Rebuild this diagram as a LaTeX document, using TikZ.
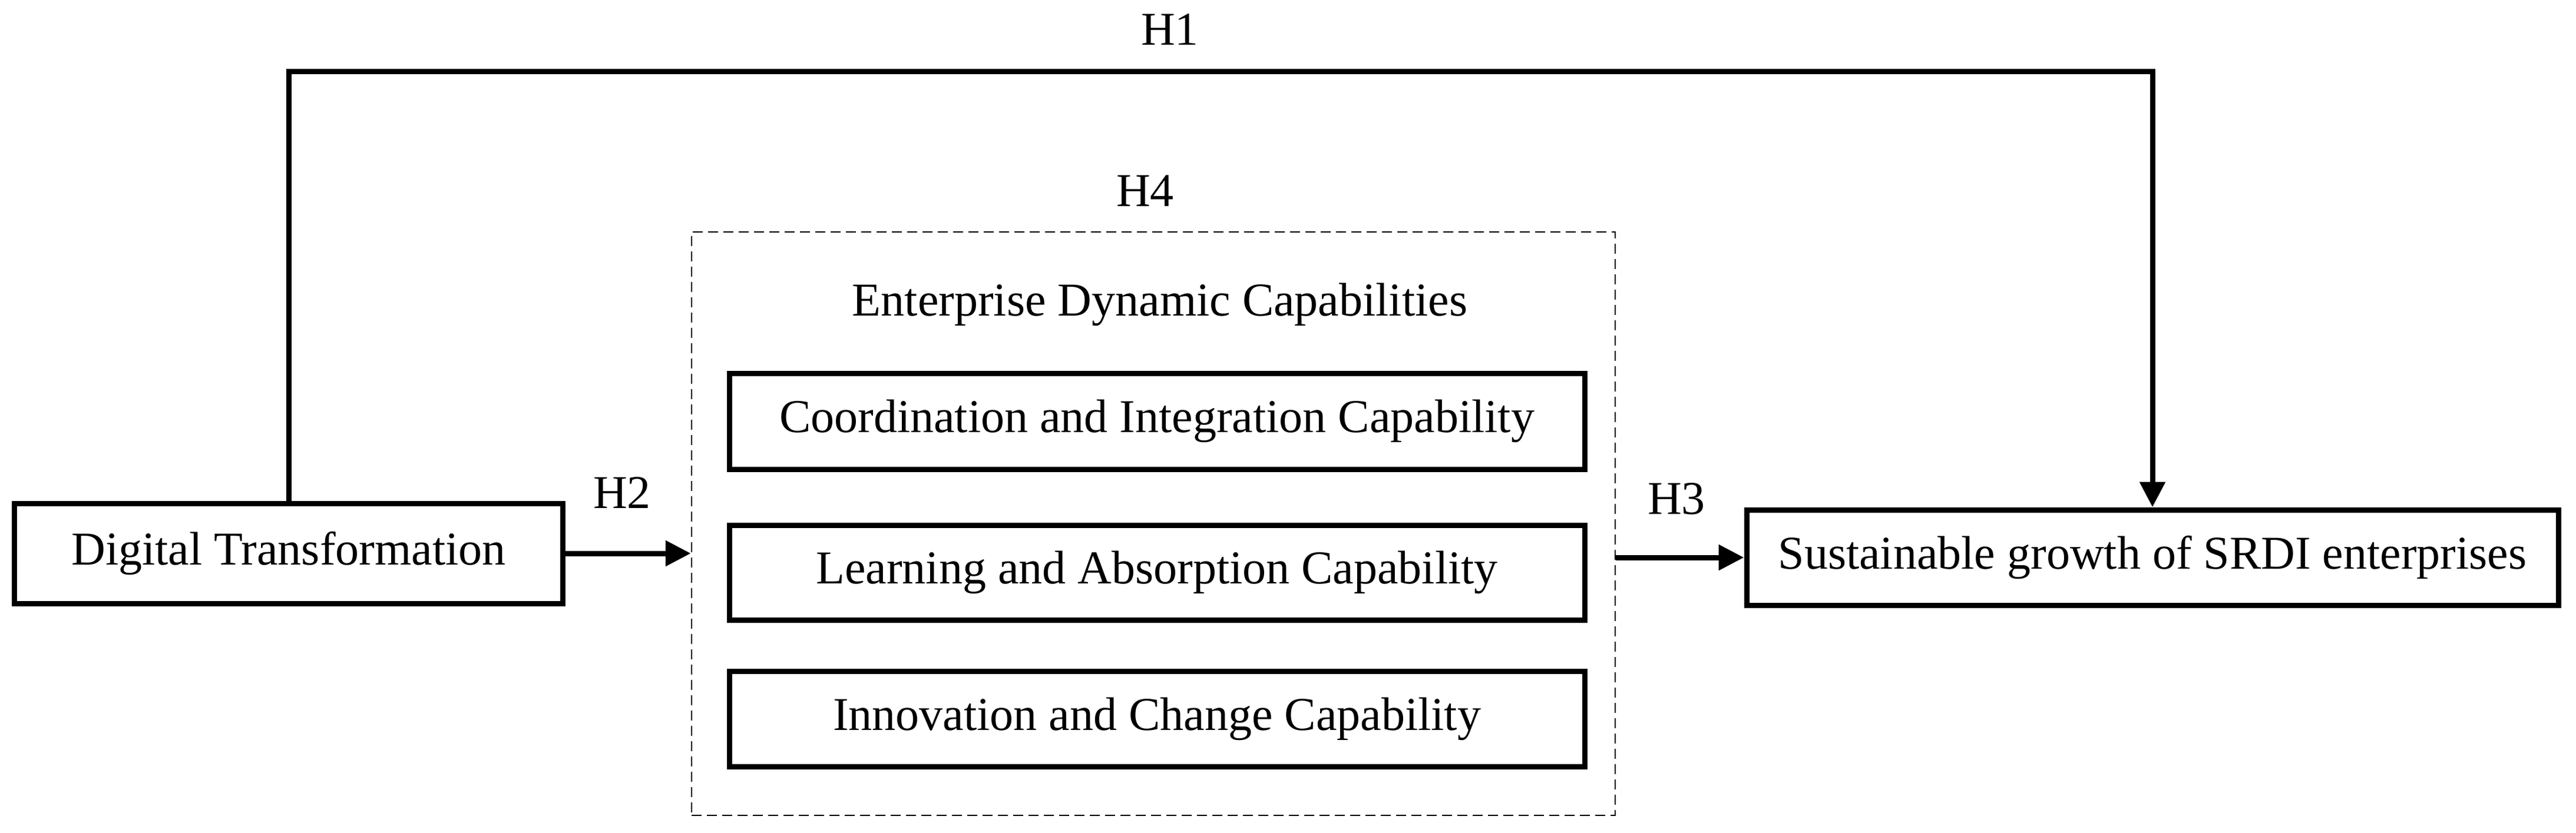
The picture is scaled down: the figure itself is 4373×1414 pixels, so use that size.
\documentclass[tikz,border=0pt]{standalone}
\usepackage{fontspec}
\setmainfont{Liberation Serif}
\usetikzlibrary{arrows.meta}
\begin{document}
\begin{tikzpicture}[x=0.2pt,y=-0.2pt,
  every node/.style={font=\fontsize{16pt}{19pt}\selectfont, inner sep=0pt},
  box/.style={draw, line width=1.8pt, minimum width=#1, align=center},
  dynbox/.style={draw, line width=0.5pt, dash pattern=on 3.4pt off 1.8pt},
  conn/.style={line width=1.8pt, -{Triangle[length=8.6pt,width=8.4pt]}},
  lbl/.style={}]
\useasboundingbox (0,0) rectangle (4373,1414);
\node[box=186pt, minimum height=34pt] (dt) at (490,940) {Digital Transformation};
\node[dynbox, minimum width=313.6pt, minimum height=198.2pt] (dyn) at (1958,889.5) {};
\node[box=290.4pt, minimum height=32.6pt] (c1) at (1964,715.5) {Coordination and Integration Capability};
\node[box=290.4pt, minimum height=32.2pt] (c2) at (1964,972.5) {Learning and Absorption Capability};
\node[box=290.4pt, minimum height=32.4pt] (c3) at (1964,1221) {Innovation and Change Capability};
\node[box=275.6pt, minimum height=32.4pt] (srdi) at (3654,947) {Sustainable growth of SRDI enterprises};
\node[lbl] (edc) at (1969,517) {Enterprise Dynamic Capabilities};
\node[lbl] (h1) at (1986,50) {H1};
\node[lbl] (h4) at (1944,324) {H4};
\node[lbl] (h2) at (1056,837) {H2};
\node[lbl] (h3) at (2846,847) {H3};
\coordinate (top) at (0,121);
\draw[conn] (dt.north) -- (dt.north |- top) -- (srdi.north |- top) -- (srdi.north);
\draw[conn] (dt.east) -- (dt.east -| dyn.west);
\draw[conn] (srdi.west -| dyn.east) -- (srdi.west);
\end{tikzpicture}
\end{document}
